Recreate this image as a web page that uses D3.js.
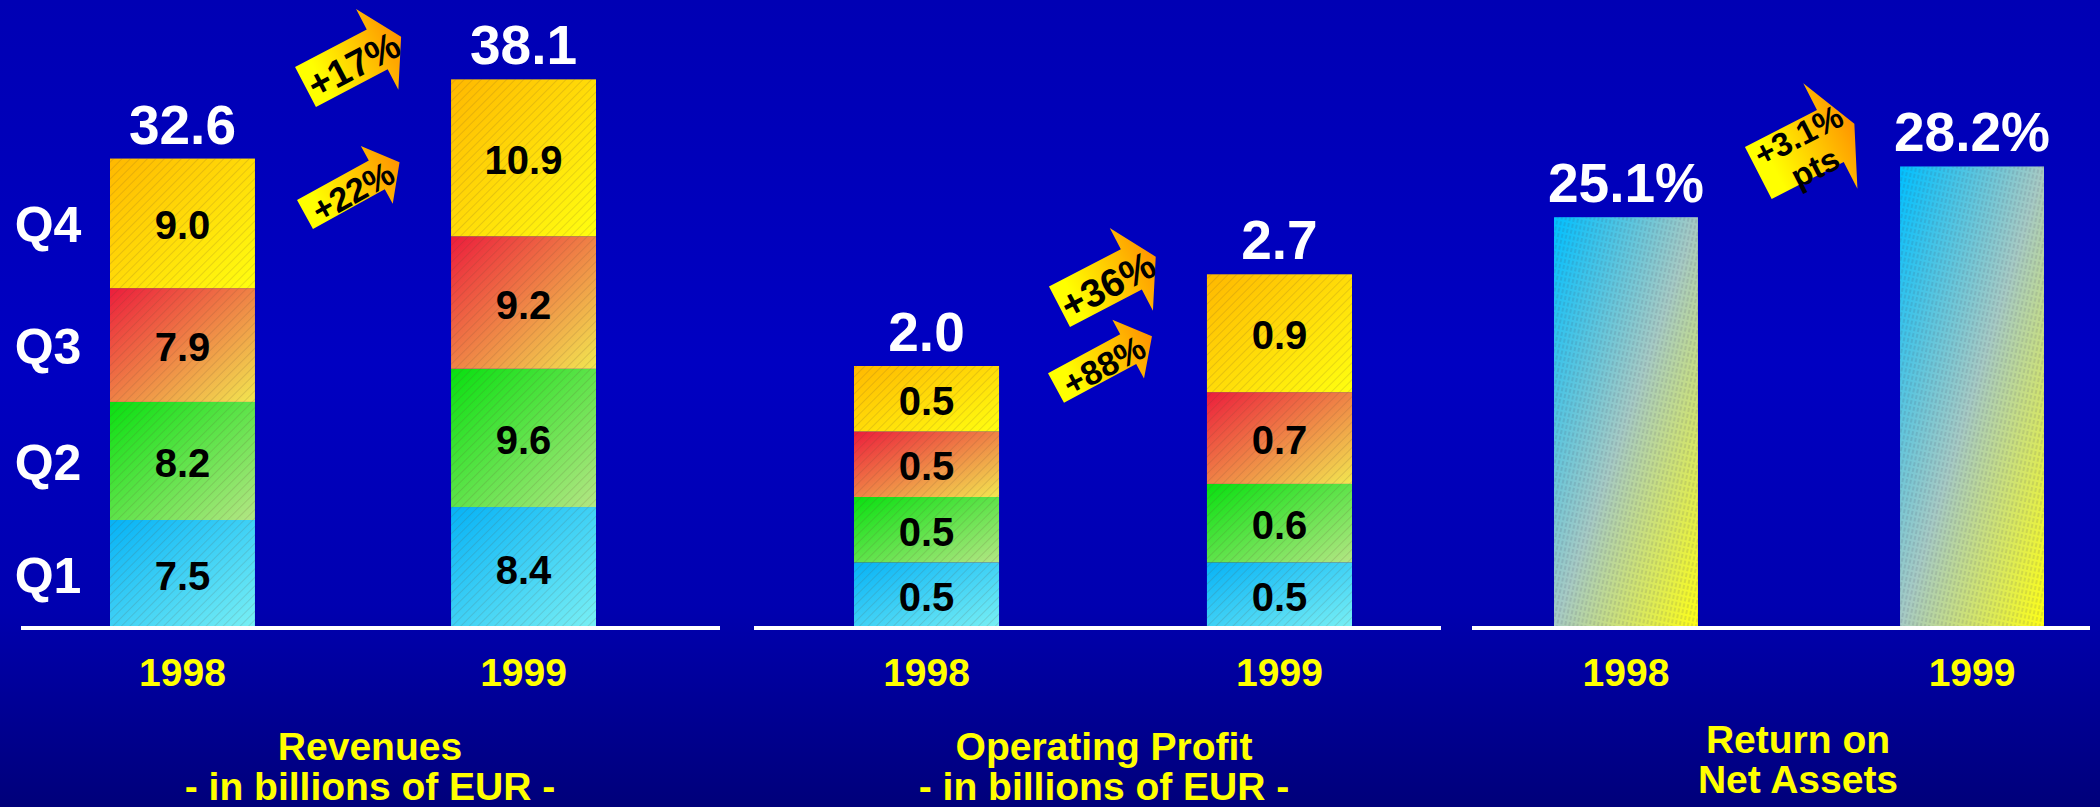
<!DOCTYPE html>
<html>
<head>
<meta charset="utf-8">
<script src="https://cdn.jsdelivr.net/npm/d3@7"></script>
<style>
  html, body { margin: 0; padding: 0; background: #0000b4; }
  svg { display: block; font-family: "Liberation Sans", Arial, sans-serif; font-weight: bold; }
</style>
</head>
<body>
<svg id="chart" width="2100" height="807"></svg>
<script>
const years = ["1998", "1999"];
const quarters = ["Q1", "Q2", "Q3", "Q4"];
const revenue1998 = [7.5, 8.2, 7.9, 9.0];
const revenue1999 = [8.4, 9.6, 9.2, 10.9];
const revenueTotals = [32.6, 38.1];
const profit1998 = [0.5, 0.5, 0.5, 0.5];
const profit1999 = [0.5, 0.6, 0.7, 0.9];
const profitTotals = [2.0, 2.7];
const ronaValues = [25.1, 28.2];
const revenueGrowth = [["+17%"], ["+22%"]];
const profitGrowth = [["+36%"], ["+88%"]];
const ronaGrowth = [["+3.1%", "pts"]];
const revenueTitle = ["Revenues", "- in billions of EUR -"];
const profitTitle = ["Operating Profit", "- in billions of EUR -"];
const ronaTitle = ["Return on", "Net Assets"];

const BASE = 628;
const FONT = '"Liberation Sans", Arial, sans-serif';

const QUARTER_COLORS = {
  Q1: ["#06b2f6", "#7af0f4"],
  Q2: ["#08e010", "#b4e684"],
  Q3: ["#ec1c3c", "#f2e850"],
  Q4: ["#ffb800", "#ffff10"],
};

const svg = d3.select("#chart");
const defs = svg.append("defs");

// background
const bg = defs.append("linearGradient").attr("id", "bg").attr("x1", 0).attr("y1", 0).attr("x2", 0).attr("y2", 1);
bg.append("stop").attr("offset", 0).attr("stop-color", "#0000b4");
bg.append("stop").attr("offset", 0.45).attr("stop-color", "#0000c2");
bg.append("stop").attr("offset", 0.75).attr("stop-color", "#0000b0");
bg.append("stop").attr("offset", 1).attr("stop-color", "#00007a");
svg.append("rect").attr("width", 2100).attr("height", 807).attr("fill", "url(#bg)");

Object.entries(QUARTER_COLORS).forEach(([q, [c0, c1]]) => {
  const lg = defs.append("linearGradient").attr("id", `grad-${q}`)
    .attr("x1", 0).attr("y1", 0).attr("x2", 1).attr("y2", 1);
  lg.append("stop").attr("offset", 0).attr("stop-color", c0);
  lg.append("stop").attr("offset", 1).attr("stop-color", c1);
});

const rg = defs.append("linearGradient").attr("id", "grad-rona")
  .attr("x1", 0).attr("y1", 0).attr("x2", 1).attr("y2", 1);
rg.append("stop").attr("offset", 0).attr("stop-color", "#00c0ff");
rg.append("stop").attr("offset", 0.5).attr("stop-color", "#a6cac4");
rg.append("stop").attr("offset", 1).attr("stop-color", "#ffff14");

const ag = defs.append("linearGradient").attr("id", "grad-arrow")
  .attr("x1", 0).attr("y1", 0).attr("x2", 1).attr("y2", 0);
ag.append("stop").attr("offset", 0.15).attr("stop-color", "#ffff00");
ag.append("stop").attr("offset", 1).attr("stop-color", "#ff9400");

const hatch = defs.append("pattern").attr("id", "hatch")
  .attr("patternUnits", "userSpaceOnUse").attr("width", 6).attr("height", 6)
  .attr("patternTransform", "rotate(45)");
hatch.append("line").attr("x1", 0).attr("y1", 0).attr("x2", 0).attr("y2", 6)
  .attr("stroke", "rgba(90,60,40,0.22)").attr("stroke-width", 1.4);

const dots = defs.append("pattern").attr("id", "dots")
  .attr("patternUnits", "userSpaceOnUse").attr("width", 4).attr("height", 6)
  .attr("patternTransform", "rotate(12)");
dots.append("line").attr("x1", 1).attr("y1", 0).attr("x2", 1).attr("y2", 4)
  .attr("stroke", "rgba(60,60,90,0.22)").attr("stroke-width", 1.2);

const PANELS = {
  revenue: { line: [21, 720], bars: [110, 596], pad: 0.575, yMax: 40, yTop: 52, titleX: 370, titleY: 760 },
  profit: { line: [754, 1441], bars: [854, 1352], pad: 0.589, yMax: 3, yTop: 235, titleX: 1104, titleY: 760 },
  rona: { line: [1472, 2090], bars: [1554, 2044], pad: 0.584, yMax: 30, yTop: 137, titleX: 1798, titleY: 753 },
};

const ARROWS = {
  revenue: [
    { x: 305.5, y: 87, angle: -27.7, w: 45, s: 81, hl: 27, b: 23, size: 38 },
    { x: 305, y: 214.5, angle: -28.9, w: 33, s: 82, hl: 26, b: 16.5, size: 34 },
  ],
  profit: [
    { x: 1059.5, y: 306.8, angle: -27.5, w: 45.5, s: 81, hl: 27.5, b: 24, size: 39 },
    { x: 1056, y: 388, angle: -28.3, w: 33.7, s: 82, hl: 27, b: 16.5, size: 34 },
  ],
  rona: [
    { x: 1758.3, y: 173, angle: -27.2, w: 58.5, s: 81, hl: 27, b: 30, size: 33, lead: 36 },
  ],
};

function textStyle(sel, size, fill) {
  return sel.attr("font-family", FONT).attr("font-weight", "bold")
    .attr("font-size", size).attr("fill", fill);
}

function makeScales(p) {
  const x = d3.scaleBand().domain(years).range(p.bars).paddingInner(p.pad).paddingOuter(0);
  const y = d3.scaleLinear().domain([0, p.yMax]).range([BASE, p.yTop]);
  return { x, y };
}

function drawAxis(p, x) {
  const axis = svg.append("g").attr("transform", `translate(0,${BASE})`)
    .call(d3.axisBottom(x).tickSize(0).tickPadding(30));
  axis.select(".domain").remove();
  textStyle(axis.selectAll("text"), 39, "#ffff00");

  svg.append("line")
    .attr("x1", p.line[0]).attr("x2", p.line[1])
    .attr("y1", BASE).attr("y2", BASE)
    .attr("stroke", "#ffffff").attr("stroke-width", 4);
}

function drawTitle(p, lines) {
  const t = textStyle(svg.append("text"), 39, "#ffff00")
    .attr("x", p.titleX).attr("y", p.titleY).attr("text-anchor", "middle");
  lines.forEach((line, i) => {
    t.append("tspan").attr("x", p.titleX).attr("dy", i === 0 ? 0 : 40).text(line);
  });
}

function drawTotals(x, y, values, fmt) {
  textStyle(svg.append("g").selectAll("text").data(values).join("text"), 55, "#ffffff")
    .attr("x", (d, i) => x(years[i]) + x.bandwidth() / 2)
    .attr("y", (d) => y(d) - 15)
    .attr("text-anchor", "middle")
    .text(fmt);
}

function arrowPath(a) {
  const h = a.w / 2;
  return d3.line()([
    [0, -h], [a.s, -h], [a.s, -h - a.b], [a.s + a.hl, 0],
    [a.s, h + a.b], [a.s, h], [0, h],
  ]) + "Z";
}

function drawArrows(specs, labels) {
  specs.forEach((a, i) => {
    const g = svg.append("g").attr("transform", `translate(${a.x},${a.y}) rotate(${a.angle})`);
    g.append("path").attr("d", arrowPath(a)).attr("fill", "url(#grad-arrow)");
    const lines = labels[i];
    const lead = a.lead || 0;
    lines.forEach((line, j) => {
      textStyle(g.append("text"), a.size, "#000000")
        .attr("x", 53)
        .attr("y", 3 + (j - (lines.length - 1) / 2) * lead)
        .attr("text-anchor", "middle")
        .attr("dominant-baseline", "central")
        .text(line);
    });
  });
}

function drawStacked(p, series98, series99, totals, growth, title, arrows, showQuarters) {
  const { x, y } = makeScales(p);
  const rows = [series98, series99].map((vals, i) => {
    const row = { year: years[i] };
    quarters.forEach((q, k) => { row[q] = vals[k]; });
    return row;
  });
  const stacked = d3.stack().keys(quarters)(rows);

  const seg = svg.append("g").selectAll("g.layer").data(stacked).join("g").attr("class", "layer");
  seg.selectAll("rect.fill").data((layer) => layer.map((d) => ({ d, key: layer.key })))
    .join("rect").attr("class", "fill")
    .attr("x", ({ d }) => x(d.data.year))
    .attr("y", ({ d }) => y(d[1]))
    .attr("width", x.bandwidth())
    .attr("height", ({ d }) => y(d[0]) - y(d[1]))
    .attr("fill", ({ key }) => `url(#grad-${key})`);
  seg.selectAll("rect.hatch").data((layer) => layer)
    .join("rect").attr("class", "hatch")
    .attr("x", (d) => x(d.data.year))
    .attr("y", (d) => y(d[1]))
    .attr("width", x.bandwidth())
    .attr("height", (d) => y(d[0]) - y(d[1]))
    .attr("fill", "url(#hatch)");
  textStyle(seg.selectAll("text").data((layer) => layer).join("text"), 40, "#000000")
    .attr("x", (d) => x(d.data.year) + x.bandwidth() / 2)
    .attr("y", (d) => (y(d[0]) + y(d[1])) / 2 + 2)
    .attr("text-anchor", "middle")
    .attr("dominant-baseline", "central")
    .text((d) => (d[1] - d[0]).toFixed(1));

  if (showQuarters) {
    textStyle(svg.append("g").selectAll("text").data(stacked).join("text"), 50, "#ffffff")
      .attr("x", 48)
      .attr("y", (layer) => (y(layer[0][0]) + y(layer[0][1])) / 2 + 2)
      .attr("text-anchor", "middle")
      .attr("dominant-baseline", "central")
      .text((layer) => layer.key);
  }

  drawAxis(p, x);
  drawTotals(x, y, totals, (d) => d.toFixed(1));
  drawTitle(p, title);
  drawArrows(arrows, growth);
}

function drawRona(p) {
  const { x, y } = makeScales(p);
  const g = svg.append("g");
  g.selectAll("rect.fill").data(ronaValues).join("rect").attr("class", "fill")
    .attr("x", (d, i) => x(years[i]))
    .attr("y", (d) => y(d))
    .attr("width", x.bandwidth())
    .attr("height", (d) => BASE - y(d))
    .attr("fill", "url(#grad-rona)");
  g.selectAll("rect.dots").data(ronaValues).join("rect").attr("class", "dots")
    .attr("x", (d, i) => x(years[i]))
    .attr("y", (d) => y(d))
    .attr("width", x.bandwidth())
    .attr("height", (d) => BASE - y(d))
    .attr("fill", "url(#dots)");

  drawAxis(p, x);
  drawTotals(x, y, ronaValues, (d) => `${d.toFixed(1)}%`);
  drawTitle(p, ronaTitle);
  drawArrows(ARROWS.rona, ronaGrowth);
}

drawStacked(PANELS.revenue, revenue1998, revenue1999, revenueTotals, revenueGrowth, revenueTitle, ARROWS.revenue, true);
drawStacked(PANELS.profit, profit1998, profit1999, profitTotals, profitGrowth, profitTitle, ARROWS.profit, false);
drawRona(PANELS.rona);
</script>
</body>
</html>
